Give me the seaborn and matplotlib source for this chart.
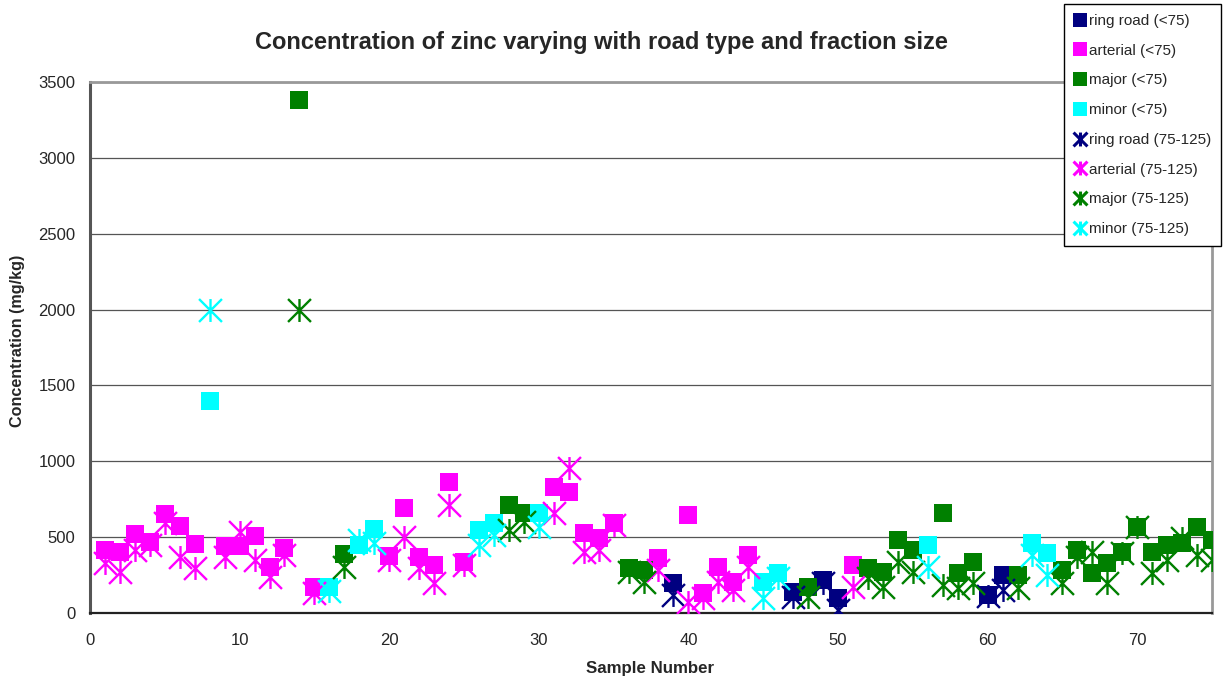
import numpy as np
import pandas as pd
import matplotlib
matplotlib.use("Agg")
import matplotlib.pyplot as plt
import seaborn as sns
from matplotlib.path import Path
from matplotlib.lines import Line2D

# ---------------- data ----------------
samples = list(range(1, 76))
road = (["arterial"] * 7 + ["minor"] + ["arterial"] * 5 + ["major", "arterial", "minor", "major",
        "minor", "minor"] + ["arterial"] * 6 + ["minor", "minor", "major", "major", "minor"]
        + ["arterial"] * 5 + ["major", "major", "arterial", "ring road"] + ["arterial"] * 5
        + ["minor", "minor", "ring road", "major", "ring road", "ring road", "arterial"]
        + ["major"] * 4 + ["minor"] + ["major"] * 3 + ["ring road", "ring road", "major",
        "minor", "minor"] + ["major"] * 11)
zinc_lt75 = [415, 400, 520, 465, 655, 573, 455, 1400, 441, 441,
             507, 303, 428, 3380, 171, 171, 389, 450, 555, 375,
             692, 369, 316, 863, 336, 547, 590, 712, 659, 659,
             830, 797, 527, 494, 593, 297, 283, 362, 198, 646,
             132, 303, 204, 382, 204, 264, 138, 171, 217, 99,
             316, 297, 270, 481, 415, 448, 659, 264, 336, 119,
             250, 250, 461, 395, 283, 415, 264, 330, 402, 567,
             402, 448, 461, 567, 481]
zinc_75_125 = [330, 270, 415, 448, 593, 369, 297, 2000, 369, 534,
               349, 237, 382, 2000, 132, 145, 303, 481, 461, 350,
               501, 297, 198, 712, 316, 448, 514, 547, 600, 567,
               659, 955, 402, 415, 580, 270, 204, 283, 119, 72,
               99, 204, 152, 303, 99, 231, 105, 105, 198, 20,
               171, 231, 171, 336, 270, 303, 185, 165, 198, 110,
               152, 165, 382, 250, 198, 369, 402, 198, 395, 567,
               264, 349, 494, 382, 349]

road_order = ["ring road", "arterial", "major", "minor"]
colors = {"ring road": "#000080", "arterial": "#FF00FF", "major": "#008000", "minor": "#00FFFF"}

df = pd.DataFrame({"sample": samples, "road": road,
                   "lt75": zinc_lt75, "mid": zinc_75_125})

# ---------------- style ----------------
sns.set_style("white")
plt.rcParams["font.family"] = ["Liberation Sans", "DejaVu Sans"]

# Excel-like star marker: vertical line + X
star = Path([(0, -1), (0, 1), (-1, -1), (1, 1), (-1, 1), (1, -1)],
            [Path.MOVETO, Path.LINETO, Path.MOVETO, Path.LINETO, Path.MOVETO, Path.LINETO])

fig = plt.figure(figsize=(12.3, 6.84), dpi=100)
ax = fig.add_axes([90 / 1230, 1 - 613 / 684, (1212 - 90) / 1230, (613 - 82) / 684])

for r in road_order:
    sub = df[df["road"] == r]
    sns.scatterplot(data=sub, x="sample", y="lt75", color=colors[r], marker="s",
                    s=13.5 ** 2, linewidth=0, ax=ax, legend=False, zorder=3)
for r in road_order:
    sub = df[df["road"] == r]
    sns.scatterplot(data=sub, x="sample", y="mid", color=colors[r], marker=star,
                    s=16.5 ** 2, edgecolor=colors[r], linewidth=1.7, ax=ax,
                    legend=False, zorder=4)

ax.set_xlim(0, 75)
ax.set_ylim(0, 3500)
ax.set_xticks(range(0, 71, 10))
ax.set_yticks(range(0, 3501, 500))
ax.tick_params(axis="both", direction="out", length=4.5, width=1, labelsize=12, color="black")
ax.tick_params(axis="y", pad=6)
ax.tick_params(axis="x", pad=10)
ax.yaxis.grid(True, color="#555555", linewidth=0.9)
ax.set_axisbelow(True)
for s in ["top", "right"]:
    ax.spines[s].set_color("#999999")
    ax.spines[s].set_linewidth(2)
ax.spines["left"].set_color("#555555")
ax.spines["left"].set_linewidth(2.2)
ax.spines["bottom"].set_color("#222222")
ax.spines["bottom"].set_linewidth(1.6)

ax.set_xlabel("")
ax.set_ylabel("")
fig.text(650 / 1230, 1 - 668 / 684, "Sample Number", ha="center", va="center",
         fontsize=12.2, fontweight="bold")
fig.text(18 / 1230, 1 - 341 / 684, "Concentration (mg/kg)", ha="center", va="center",
         rotation=90, fontsize=11.6, fontweight="bold")
fig.text(601 / 1230, 1 - 42 / 684, "Concentration of zinc varying with road type and fraction size",
         ha="center", va="center", fontsize=17, fontweight="bold")

handles, labels = [], []
for r in road_order:
    handles.append(Line2D([], [], marker="s", color=colors[r], linestyle="",
                          markersize=10, markeredgewidth=0))
    labels.append(f"{r} (<75)")
for r in road_order:
    handles.append(Line2D([], [], marker=star, color=colors[r], linestyle="",
                          markersize=10, markeredgewidth=2.2, markeredgecolor=colors[r]))
    labels.append(f"{r} (75-125)")
leg = fig.legend(handles, labels, loc="upper left", bbox_to_anchor=(1064 / 1230, 1 - 4 / 684),
                 frameon=True, fancybox=False, edgecolor="black", fontsize=11,
                 handlelength=0.8, handletextpad=0.2, labelspacing=1.03, borderpad=0.65,
                 borderaxespad=0, framealpha=1)
leg.get_frame().set_linewidth(1)

fig.savefig("out.png", dpi=100)
